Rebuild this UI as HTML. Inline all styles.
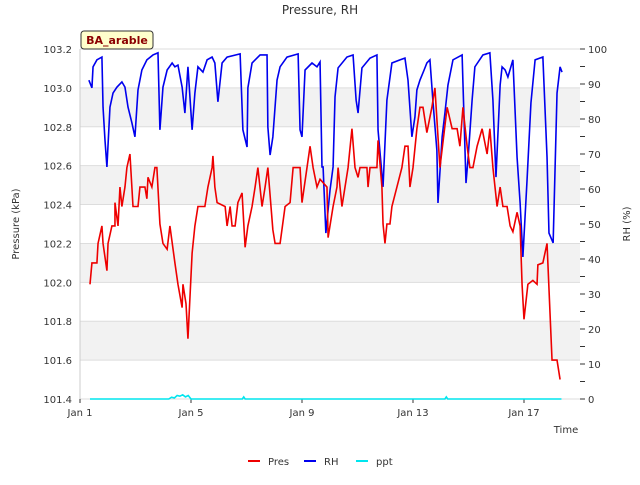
<!DOCTYPE html>
<html><head><meta charset="utf-8"><style>
body{margin:0;background:#fff;font-family:"Liberation Sans","DejaVu Sans",sans-serif}
</style></head><body>
<svg id="c" width="640" height="480" xmlns="http://www.w3.org/2000/svg" font-family="DejaVu Sans, Liberation Sans, sans-serif"></svg>
<script>
const presDays=[0.36,0.43,0.61,0.65,0.79,0.83,0.97,1.01,1.15,1.26,1.26,1.37,1.44,1.51,1.62,1.69,1.80,1.91,2.09,2.16,2.34,2.41,2.45,2.59,2.70,2.77,2.88,2.99,3.14,3.24,3.42,3.53,3.68,3.71,3.82,3.89,4.04,4.14,4.25,4.50,4.61,4.76,4.79,4.86,4.94,5.23,5.30,5.41,5.48,5.59,5.69,5.84,5.95,6.05,6.20,6.31,6.41,6.56,6.67,6.77,6.95,7.03,7.21,7.39,7.57,7.68,7.93,8.00,8.18,8.29,8.40,8.54,8.65,8.90,8.94,9.12,9.26,9.30,9.44,9.55,9.66,9.80,9.91,10.02,10.09,10.34,10.38,10.45,10.70,10.74,10.88,10.92,10.99,11.06,11.17,11.24,11.42,11.60,11.71,11.82,11.89,12.00,12.14,12.25,12.36,12.50,12.68,12.79,12.97,13.23,13.41,13.59,13.69,13.80,13.95,14.05,14.16,14.31,14.49,14.67,14.77,14.88,15.03,15.14,15.24,15.39,15.50,15.60,15.75,15.86,15.93,16.00,16.14,16.32,16.47,16.50,16.68,16.83,16.86,17.01,17.19,17.30];
const presVals=[101.99,102.10,102.10,102.20,102.29,102.20,102.06,102.20,102.29,102.29,102.41,102.29,102.49,102.39,102.49,102.59,102.66,102.39,102.39,102.49,102.49,102.43,102.54,102.49,102.59,102.59,102.30,102.20,102.17,102.29,102.10,101.99,101.87,101.99,101.89,101.71,102.15,102.29,102.39,102.39,102.49,102.59,102.65,102.49,102.41,102.39,102.29,102.39,102.29,102.29,102.41,102.46,102.18,102.29,102.39,102.49,102.59,102.39,102.49,102.59,102.27,102.20,102.20,102.39,102.41,102.59,102.59,102.41,102.59,102.70,102.59,102.49,102.53,102.49,102.23,102.39,102.49,102.59,102.39,102.49,102.59,102.79,102.59,102.54,102.59,102.59,102.49,102.59,102.59,102.73,102.49,102.30,102.20,102.30,102.30,102.39,102.49,102.59,102.70,102.70,102.49,102.59,102.79,102.90,102.90,102.77,102.90,103.00,102.59,102.90,102.79,102.79,102.70,102.90,102.70,102.59,102.59,102.70,102.79,102.66,102.79,102.59,102.39,102.49,102.39,102.39,102.29,102.26,102.36,102.29,101.99,101.81,101.99,102.01,101.99,102.09,102.10,102.20,102.10,101.60,101.60,101.50];
const rhDays=[0.32,0.43,0.47,0.61,0.79,0.83,0.90,0.97,1.08,1.19,1.33,1.51,1.62,1.73,1.87,1.98,2.09,2.23,2.41,2.63,2.81,2.88,2.99,3.14,3.32,3.42,3.53,3.68,3.78,3.89,4.04,4.14,4.25,4.43,4.58,4.76,4.86,4.97,5.12,5.30,5.77,5.87,6.02,6.05,6.20,6.49,6.74,6.77,6.85,6.95,7.10,7.21,7.46,7.86,7.93,8.00,8.11,8.36,8.54,8.65,8.72,8.76,8.86,9.01,9.12,9.19,9.30,9.62,9.84,9.95,10.02,10.16,10.45,10.70,10.74,10.92,11.06,11.24,11.53,11.71,11.82,11.96,12.07,12.14,12.25,12.40,12.50,12.61,12.72,12.86,12.90,13.05,13.15,13.26,13.44,13.77,13.80,13.91,13.98,14.13,14.23,14.52,14.77,14.88,14.99,15.14,15.21,15.32,15.42,15.60,15.75,15.86,15.96,16.11,16.25,16.40,16.68,16.83,16.90,17.05,17.19,17.30,17.37];
const rhVals=[91.1,88.9,94.9,96.9,97.7,83.4,74.0,66.3,83.4,87.4,89.1,90.6,89.1,83.4,78.9,74.9,88.3,94.0,96.9,98.3,98.9,76.9,89.1,94.0,96.0,94.9,95.4,89.1,81.7,94.9,76.9,87.4,94.9,93.4,96.9,97.7,96.0,84.9,96.0,97.7,98.6,76.9,72.0,88.9,96.0,98.3,98.3,77.7,69.7,74.9,91.1,94.9,97.7,98.6,76.9,74.9,94.0,96.0,94.9,96.3,66.3,66.3,47.4,59.7,66.3,86.3,94.6,97.7,98.3,85.4,81.7,94.6,97.4,98.3,76.9,60.6,85.4,96.0,96.9,97.4,91.1,74.9,80.6,88.3,91.1,94.0,96.0,96.9,84.9,71.1,56.0,74.9,81.7,89.7,96.9,98.3,90.3,61.7,68.3,85.4,94.9,98.3,98.9,85.4,63.4,89.7,94.9,94.0,92.0,96.9,69.1,56.0,40.6,62.6,84.6,96.9,97.7,69.1,47.4,44.6,87.4,94.9,93.4];
const pptDays=[0.36,3.2,3.3,3.4,3.5,3.6,3.7,3.8,3.9,4.0,5.85,5.9,5.95,13.15,13.2,13.25,17.35];
const pptVals=[0,0,0.5,0.3,1,0.8,1.2,0.6,1,0,0,0.6,0,0,0.6,0,0];
const leftTicks=["101.4","101.6","101.8","102.0","102.2","102.4","102.6","102.8","103.0","103.2"];
const rightTicks=["0","10","20","30","40","50","60","70","80","90","100"];
const xTickDays=[0,4,8,12,16];
const xTickLabels=["Jan 1","Jan 5","Jan 9","Jan 13","Jan 17"];

const NS="http://www.w3.org/2000/svg",svg=document.getElementById('c');
const X0=80,X1=580,Y0=49,Y1=399;
const xs=d=>X0+d*27.75;
const yL=v=>Y1-(v-101.4)/1.8*(Y1-Y0);
const yR=v=>Y1-v/100*(Y1-Y0);
function el(t,a,p){const e=document.createElementNS(NS,t);for(const k in a)e.setAttribute(k,a[k]);(p||svg).appendChild(e);return e;}
function txt(s,a){const e=el('text',a);e.textContent=s;return e;}
// bands
for(let i=0;i<leftTicks.length-1;i++){const v=parseFloat(leftTicks[i]);
 if(i%2==1){const r=el('rect',{x:X0,y:yL(v+0.2),width:X1-X0,height:yL(v)-yL(v+0.2),fill:'#f2f2f2'});}}
leftTicks.forEach(s=>{const v=parseFloat(s),y=yL(v);
 const g=el('line',{x1:X0,x2:X1,y1:y,y2:y,stroke:'#dddddd'});
 const t=txt(s,{x:X0-8,y:y+4,'text-anchor':'end','font-size':10,fill:'#333'});});
el('line',{x1:X0,x2:X0,y1:Y0,y2:Y1,stroke:'#ccc'});
for(let v=0;v<=100;v+=5){const y=yR(v);el('line',{x1:X1,x2:X1+5,y1:y,y2:y,stroke:'#333'});}
rightTicks.forEach(s=>{const y=yR(+s);const t=txt(s,{x:X1+8,y:y+4,'font-size':10,fill:'#333'});});
xTickDays.forEach((d,i)=>{const x=xs(d);el('line',{x1:x,x2:x,y1:Y1,y2:Y1+4,stroke:'#333'});
 const t=txt(xTickLabels[i],{x:x,y:416,'text-anchor':'middle','font-size':10,fill:'#333'});});
function line(ds,vs,f,c,n){const p=el('polyline',{points:ds.map((d,i)=>xs(d)+','+f(vs[i])).join(' '),fill:'none',stroke:c,'stroke-width':1.6});}
line(pptDays,pptVals,yR,'#00e5ee','ppt-line');
line(rhDays,rhVals,yR,'#0000ee','rh-line');
line(presDays,presVals,yL,'#ee0000','pres-line');
let t;
t=txt('Pressure, RH',{x:320,y:14,'text-anchor':'middle','font-size':12,fill:'#333'});
t=txt('Pressure (kPa)',{x:19,y:224,'text-anchor':'middle','font-size':10,fill:'#333',transform:'rotate(-90 19 224)'});
t=txt('RH (%)',{x:630,y:224,'text-anchor':'middle','font-size':10,fill:'#333',transform:'rotate(-90 630 224)'});
t=txt('Time',{x:566,y:433,'text-anchor':'middle','font-size':10,fill:'#333'});
const b=el('rect',{x:81,y:31,width:72,height:18,rx:3,fill:'#ffffcc',stroke:'#333'});
t=txt('BA_arable',{x:117,y:44,'text-anchor':'middle','font-size':11,'font-weight':'bold',fill:'#8b0000'});
[['Pres','#ee0000',248],['RH','#0000ee',304],['ppt','#00e5ee',356]].forEach(([n,c,x])=>{
 const g=el('g',{});
 el('line',{x1:x,x2:x+12,y1:461,y2:461,stroke:c,'stroke-width':2},g);
 const tt=el('text',{x:x+20,y:465,'font-size':10,fill:'#333'},g);tt.textContent=n;});
</script>
</body></html>
